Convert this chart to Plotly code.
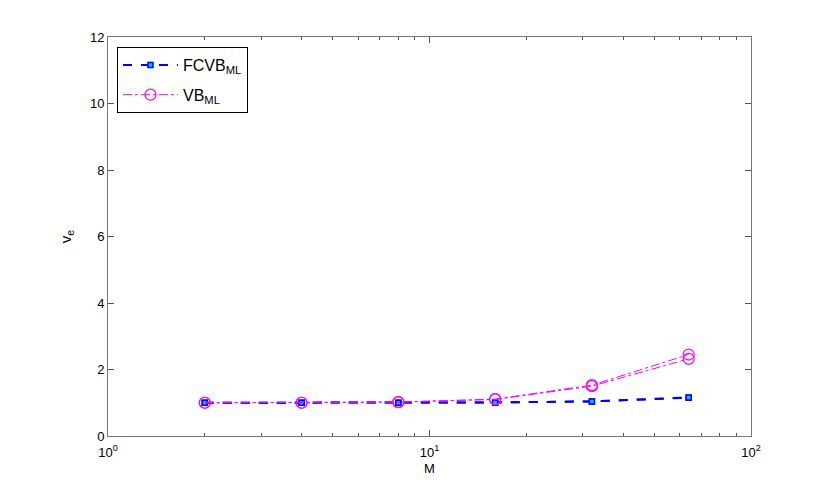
import plotly.graph_objects as go

M = [2, 4, 8, 16, 32, 64]
fcvb_a = [1.0, 1.0, 1.0, 1.01, 1.04, 1.15]
fcvb_b = [1.0, 1.0, 1.0, 1.01, 1.04, 1.16]
vb_a = [1.0, 1.0, 1.02, 1.10, 1.50, 2.32]
vb_b = [1.0, 1.0, 1.02, 1.11, 1.53, 2.45]

x_tickvals = [1, 10, 100]
x_ticktext = ["10<sup>0</sup>", "10<sup>1</sup>", "10<sup>2</sup>"]
x_minor = [2, 3, 4, 5, 6, 7, 8, 9, 20, 30, 40, 50, 60, 70, 80, 90]
y_ticks = [0, 2, 4, 6, 8, 10, 12]

fcvb_style = dict(line=dict(color="#0000ff", width=2, dash="dash"),
                  marker=dict(symbol="square", size=5, color="#00c8ff",
                              line=dict(color="#0000ff", width=1.5)))
vb_style = dict(line=dict(color="#ff00ff", width=1, dash="dashdot"),
                marker=dict(symbol="circle-open", size=11, color="#ff00ff",
                            line=dict(color="#ff00ff", width=1.2)))

fig = go.Figure()
fig.add_trace(go.Scatter(x=M, y=fcvb_a, mode="lines+markers", name="FCVB<sub>ML</sub>",
                         legendgroup="fcvb", **fcvb_style))
fig.add_trace(go.Scatter(x=M, y=fcvb_b, mode="lines+markers", showlegend=False,
                         legendgroup="fcvb", **fcvb_style))
fig.add_trace(go.Scatter(x=M, y=vb_a, mode="lines+markers", name="VB<sub>ML</sub>",
                         legendgroup="vb", **vb_style))
fig.add_trace(go.Scatter(x=M, y=vb_b, mode="lines+markers", showlegend=False,
                         legendgroup="vb", **vb_style))

axis_common = dict(showline=True, linecolor="#777", linewidth=1, mirror="ticks",
                   ticks="inside", tickcolor="#555", showgrid=False, zeroline=False,
                   tickfont=dict(size=13, color="#000"))

fig.update_xaxes(type="log", range=[0, 2], tickvals=x_tickvals, ticktext=x_ticktext,
                 ticklen=6, ticklabelstandoff=4,
                 title=dict(text="M", font=dict(size=13, color="#000"), standoff=5),
                 minor=dict(tickvals=x_minor, ticks="inside", ticklen=3, tickcolor="#555"),
                 **axis_common)
fig.update_yaxes(range=[0, 12], tickvals=y_ticks, ticklen=6,
                 title=dict(text="v<sub>e</sub>", font=dict(size=15, color="#000"), standoff=14),
                 **axis_common)

fig.update_layout(width=830, height=490, margin=dict(l=100, r=87, t=29, b=62),
                  paper_bgcolor="white", plot_bgcolor="white",
                  font=dict(family="Liberation Sans, Arial, sans-serif", color="#000"),
                  legend=dict(x=0.014, y=0.975, xanchor="left", yanchor="top",
                              bgcolor="white", bordercolor="#000", borderwidth=1,
                              font=dict(size=16), itemwidth=55, tracegroupgap=6),
                  showlegend=True)

fig.write_html("out.html")
